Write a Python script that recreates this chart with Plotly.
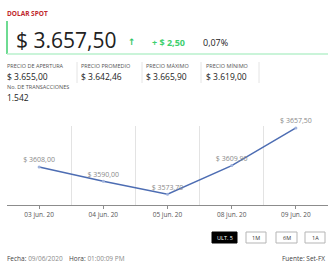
import plotly.graph_objects as go

W, H = 336, 280
FONT = "Open Sans"

dates = ["03 jun. 20", "04 jun. 20", "05 jun. 20", "08 jun. 20", "09 jun. 20"]
prices = [3608.00, 3590.00, 3573.70, 3609.90, 3657.50]
price_labels = ["$ 3608,00", "$ 3590,00", "$ 3573,70", "$ 3609,90", "$ 3657,50"]

title = "DOLAR SPOT"
last_price = "$ 3.657,50"
change = "+ $ 2,50"
change_pct = "0,07%"
stat_names = ["PRECIO DE APERTURA", "PRECIO PROMEDIO", "PRECIO MÁXIMO", "PRECIO MÍNIMO"]
stat_values = ["$ 3.655,00", "$ 3.642,46", "$ 3.665,90", "$ 3.619,00"]
tx_label = "No. DE TRANSACCIONES"
tx_value = "1.542"
buttons = ["ULT. 5", "1M", "6M", "1A"]


def px(x):
    return x / W


def py(y):
    return 1 - y / H


xs = list(range(len(dates)))

fig = go.Figure()
fig.add_trace(go.Scatter(
    x=xs, y=prices, mode="lines+markers+text",
    text=price_labels, textposition="top center",
    textfont=dict(family=FONT, size=7, color="#8a8a8a"),
    line=dict(color="#4d6db3", width=1.5),
    marker=dict(size=3, color="#9fb2dc"),
    hoverinfo="skip", cliponaxis=False,
))

annotations = []
shapes = []


def text(x, y, s, size, color, anchor="left", weight=None, family=FONT):
    if weight:
        s = "<b>" + s + "</b>"
    annotations.append(dict(
        x=px(x), y=py(y), xref="paper", yref="paper", text=s, showarrow=False,
        xanchor=anchor, yanchor="middle", borderpad=0,
        font=dict(family=family, size=size, color=color),
    ))


# header
text(6, 13, title, 6.5, "#c0272d", weight=True)
shapes.append(dict(type="line", xref="paper", yref="paper",
                   x0=px(7), x1=px(7), y0=py(21), y1=py(54),
                   line=dict(color="#3ecf6e", width=1.5)))
shapes.append(dict(type="line", xref="paper", yref="paper",
                   x0=px(7), x1=px(328), y0=py(54), y1=py(54),
                   line=dict(color="#b8f0cc", width=1.5)))
text(15, 40, last_price, 21, "#222222")
text(127, 42, "↑", 9, "#2fc463", weight=True, family="DejaVu Sans")
text(151, 42, change, 9, "#3ecf6e", weight=True)
text(202, 42, change_pct, 9, "#222222")

# stats
stat_x = [6, 80, 145, 205]
for sx, name, val in zip(stat_x, stat_names, stat_values):
    text(sx, 66, name, 5.5, "#555555")
    text(sx, 76.5, val, 8.5, "#222222")
for lx in [77, 142, 201, 259]:
    shapes.append(dict(type="line", xref="paper", yref="paper",
                       x0=px(lx), x1=px(lx), y0=py(62), y1=py(83),
                       line=dict(color="#e4e4e4", width=1)))
text(6, 86.5, tx_label, 5.5, "#555555")
text(6, 97, tx_value, 8.5, "#222222")

# buttons
btn_boxes = [(212, 237), (246, 266), (276, 297), (305, 325)]
for i, ((x0, x1), lab) in enumerate(zip(btn_boxes, buttons)):
    active = i == 0
    shapes.append(dict(type="rect", xref="paper", yref="paper",
                       x0=px(x0), x1=px(x1), y0=py(243), y1=py(232),
                       line=dict(color="#000000" if active else "#b5b5b5", width=1),
                       fillcolor="#000000" if active else "#ffffff"))
    text((x0 + x1) / 2, 237.5, lab, 5.5, "#ffffff" if active else "#333333", anchor="center")

# footer
text(6, 258, "Fecha: <span style='color:#8a8a8a'>09/06/2020</span>", 6.5, "#444444")
text(68, 258, "Hora: <span style='color:#8a8a8a'>01:00:09 PM</span>", 6.5, "#444444")
text(326, 258, "Fuente: Set-FX", 6.5, "#444444", anchor="right")

fig.update_layout(
    width=W, height=H, margin=dict(l=0, r=0, t=0, b=0),
    paper_bgcolor="#ffffff", plot_bgcolor="#ffffff",
    showlegend=False,
    annotations=annotations, shapes=shapes,
    xaxis=dict(
        domain=[px(7), px(328)], range=[-0.5, 4.5],
        tickvals=xs, ticktext=dates, showgrid=False, zeroline=False,
        showline=True, linecolor="#8c8c8c", linewidth=1,
        ticks="outside", ticklen=3, tickcolor="#8c8c8c",
        tickfont=dict(family=FONT, size=6.5, color="#555555"),
        minor=dict(tickvals=[-0.5, 0.5, 1.5, 2.5, 3.5], showgrid=True,
                   gridcolor="#e3e3e3", gridwidth=1, ticks=""),
        fixedrange=True,
    ),
    yaxis=dict(
        domain=[py(205), py(126)], range=[3560, 3660],
        visible=False, showgrid=False, zeroline=False, fixedrange=True,
    ),
)

fig.write_html("out.html", config={"displayModeBar": False})
